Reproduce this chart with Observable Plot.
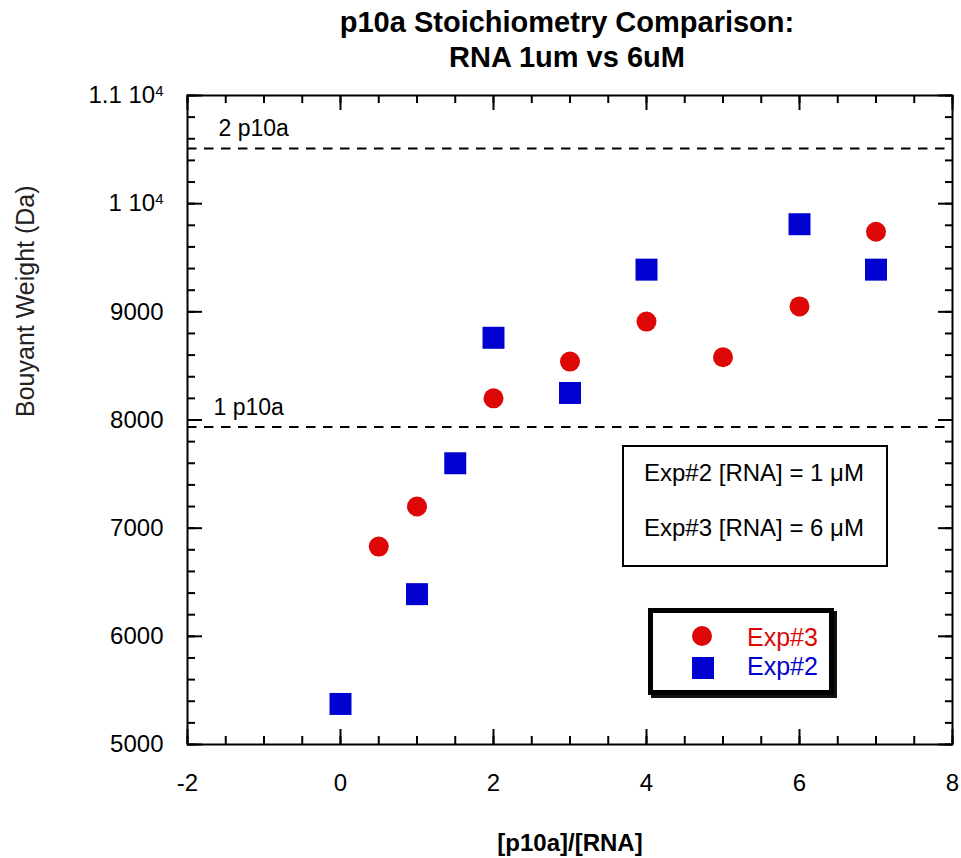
<!DOCTYPE html>
<html>
<head>
<meta charset="utf-8">
<script src="https://cdn.jsdelivr.net/npm/d3@7"></script>
<script src="https://cdn.jsdelivr.net/npm/@observablehq/plot@0.6"></script>
<style>
  html, body { margin: 0; padding: 0; background: #fff; overflow: hidden; }
  body { font-family: "Liberation Sans", Arial, Helvetica, sans-serif; }
  #wrap { position: relative; width: 961px; height: 858px; }
  #title { position: absolute; left: 0; top: 5px; width: 1134px; text-align: center;
           font-size: 29px; font-weight: bold; line-height: 35px; color: #000; }
  #chart { position: absolute; left: 0; top: 80px; }
  .box { position: absolute; box-sizing: border-box; background: #fff; }
  #note { left: 622px; top: 445px; width: 266px; height: 122px; border: 2px solid #000; }
  #legend { left: 648px; top: 608px; width: 186px; height: 87px; border: 5px solid #000;
            box-shadow: 3px 3px 0 #111; }
  .t { position: absolute; white-space: nowrap; line-height: 1; }
</style>
</head>
<body>
<div id="wrap">
  <div id="title">p10a Stoichiometry Comparison:<br>RNA 1um vs 6uM</div>
  <div id="chart"></div>
</div>
<script>
// ---- data ----
const exp3X = [0.5, 1, 2, 3, 4, 5, 6, 7];
const exp3Y = [6830, 7200, 8200, 8540, 8910, 8580, 9050, 9740];
const exp2X = [0, 1, 1.5, 2, 3, 4, 6, 7];
const exp2Y = [5375, 6390, 7600, 8760, 8250, 9390, 9810, 9390];
const refValues = [7935, 10510];
const refLabels = ["1 p10a", "2 p10a"];
const xTicks = [-2, 0, 2, 4, 6, 8];
const yTicks = [5000, 6000, 7000, 8000, 9000, 10000, 11000];
const seriesNames = ["Exp#3", "Exp#2"];
const noteLines = ["Exp#2 [RNA] = 1 \u03bcM", "Exp#3 [RNA] = 6 \u03bcM"];

const exp3 = exp3X.map((x, i) => ({x, y: exp3Y[i]}));
const exp2 = exp2X.map((x, i) => ({x, y: exp2Y[i]}));
const refs = refValues.map((v, i) => ({v, label: refLabels[i]}));
const xMinor = d3.range(-2, 8.001, 0.5);
const yMinor = d3.range(5000, 11000.1, 200);

const RED = "#dd0806", BLUE = "#0000d0";
const W = 961, H = 778, ML = 187, MR = 9, MT = 15, MB = 114;
const PW = W - ML - MR, PH = H - MT - MB;

const yFmt = d => d >= 10000 ? `${d / 10000} 10^4` : `${d}`;

const plot = Plot.plot({
  width: W, height: H,
  marginLeft: ML, marginRight: MR, marginTop: MT, marginBottom: MB,
  style: {fontFamily: '"Liberation Sans", Arial, Helvetica, sans-serif', fontSize: "24px", color: "#000", background: "#fff"},
  x: {domain: [-2, 8]},
  y: {domain: [5000, 11000]},
  marks: [
    // minor / major ticks (inward) on all four sides
    Plot.ruleX(xMinor, {x: d => d, insetTop: PH - 8, strokeWidth: 2}),
    Plot.ruleX(xTicks, {x: d => d, insetTop: PH - 15, strokeWidth: 2}),
    Plot.ruleX(xMinor, {x: d => d, insetBottom: PH - 8, strokeWidth: 2}),
    Plot.ruleX(xTicks, {x: d => d, insetBottom: PH - 15, strokeWidth: 2}),
    Plot.ruleY(yMinor, {y: d => d, insetRight: PW - 8, strokeWidth: 2}),
    Plot.ruleY(yTicks, {y: d => d, insetRight: PW - 15, strokeWidth: 2}),
    Plot.ruleY(yMinor, {y: d => d, insetLeft: PW - 7, strokeWidth: 2}),
    Plot.ruleY(yTicks, {y: d => d, insetLeft: PW - 14, strokeWidth: 2}),
    Plot.frame({strokeWidth: 2}),
    Plot.axisX({ticks: xTicks, tickSize: 0, tickPadding: 29, label: null, tickFormat: d => `${d}`, fontSize: 24}),
    Plot.axisY({ticks: yTicks, tickSize: 0, tickPadding: 24, label: null, tickFormat: yFmt, fontSize: 24}),
    // reference lines
    Plot.ruleY(refs, {y: "v", stroke: "#000", strokeWidth: 2, strokeDasharray: "9.5,7.5"}),
    Plot.text(refs.slice(0, 1), {y: "v", text: "label", frameAnchor: "left", textAnchor: "start", dx: 26, dy: -19, fontSize: 23}),
    Plot.text(refs.slice(1, 2), {y: "v", text: "label", frameAnchor: "left", textAnchor: "start", dx: 31, dy: -20, fontSize: 23}),
    // data
    Plot.dot(exp3, {x: "x", y: "y", r: 10, fill: RED, symbol: "circle"}),
    Plot.dot(exp2, {x: "x", y: "y", r: 12.4, fill: BLUE, symbol: "square"}),
    // axis titles
    Plot.text(["[p10a]/[RNA]"], {text: d => d, frameAnchor: "bottom", dy: 99, fontSize: 24, fontWeight: "bold", lineAnchor: "middle"}),
    Plot.text(["Bouyant Weight (Da)"], {text: d => d, frameAnchor: "left", dx: -162, dy: -3, rotate: -90, fontSize: 25, fill: "#222", lineAnchor: "middle"})
  ]
});

// superscript exponents on y tick labels
plot.querySelectorAll("text").forEach(t => {
  if (t.textContent.includes("^4")) {
    const base = t.textContent.replace("^4", "");
    t.textContent = base;
    const ts = document.createElementNS("http://www.w3.org/2000/svg", "tspan");
    ts.setAttribute("dy", "-0.5em");
    ts.setAttribute("font-size", "15px");
    ts.textContent = "4";
    t.appendChild(ts);
  }
});
document.getElementById("chart").appendChild(plot);

// annotation box and legend
const wrap = document.getElementById("wrap");
function el(tag, cls, css, text) {
  const e = document.createElement(tag);
  if (cls) e.className = cls;
  Object.assign(e.style, css);
  if (text != null) e.textContent = text;
  wrap.appendChild(e);
  return e;
}
el("div", "box", {}, null).id = "note";
el("div", "t", {left: "644px", top: "461px", fontSize: "24px"}, noteLines[0]);
el("div", "t", {left: "644px", top: "516px", fontSize: "24px"}, noteLines[1]);
el("div", "box", {}, null).id = "legend";
el("div", "t", {left: "692px", top: "626px", width: "20px", height: "20px", borderRadius: "50%", background: RED}, null);
el("div", "t", {left: "692px", top: "657px", width: "22px", height: "22px", background: BLUE}, null);
el("div", "t", {left: "747px", top: "625px", fontSize: "25px", color: RED}, seriesNames[0]);
el("div", "t", {left: "747px", top: "654px", fontSize: "25px", color: BLUE}, seriesNames[1]);
</script>
</body>
</html>
